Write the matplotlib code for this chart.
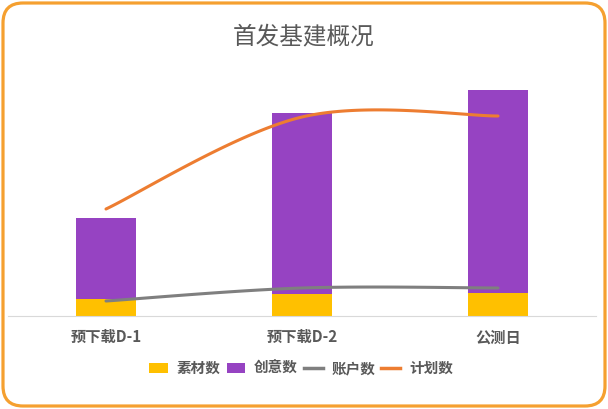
import matplotlib
matplotlib.use("Agg")
import matplotlib.pyplot as plt
import numpy as np
from matplotlib.patches import FancyBboxPatch, Patch
from matplotlib.lines import Line2D
from matplotlib.transforms import IdentityTransform

plt.rcParams['font.family'] = ['Noto Sans CJK SC', 'DejaVu Sans']

TITLE = "首发基建概况"
CATEGORIES = ["预下载D-1", "预下载D-2", "公测日"]
SUCAI = [17, 22, 23]          # 素材数
CHUANGYI = [81, 181, 203]     # 创意数
ZHANGHU = [15, 28, 28]        # 账户数
JIHUA = [107, 199, 200]       # 计划数
SERIES_NAMES = ["素材数", "创意数", "账户数", "计划数"]

YELLOW = "#FFC000"
PURPLE = "#9643C2"
GRAY = "#7F7F7F"
ORANGE = "#ED7D31"
TEXT = "#595959"
BORDER = "#F5A030"


def smooth(xs, ys, n=60):
    # excel-like smoothed line: cubic bezier with catmull-rom style handles
    pts = np.column_stack([xs, ys]).astype(float)
    k = len(pts)
    tang = np.zeros_like(pts)
    for i in range(k):
        a = pts[max(i - 1, 0)]
        b = pts[min(i + 1, k - 1)]
        tang[i] = (b - a) / 6.0
    out = []
    t = np.linspace(0, 1, n)[:, None]
    for i in range(k - 1):
        p0, p3 = pts[i], pts[i + 1]
        p1 = p0 + tang[i]
        p2 = p3 - tang[i + 1]
        seg = ((1 - t) ** 3) * p0 + 3 * ((1 - t) ** 2) * t * p1 \
            + 3 * (1 - t) * t ** 2 * p2 + t ** 3 * p3
        out.append(seg if i == 0 else seg[1:])
    out = np.vstack(out)
    return out[:, 0], out[:, 1]


fig = plt.figure(figsize=(6.08, 4.09), dpi=100)
fig.patch.set_facecolor("white")

border = FancyBboxPatch(
    (3, 3), 602, 403, boxstyle="round,pad=0,rounding_size=20",
    transform=IdentityTransform(), facecolor="white", edgecolor=BORDER,
    linewidth=2.3, zorder=0
)
fig.add_artist(border)

ax = fig.add_axes([8 / 608, 93 / 409, 588 / 608, 260 / 409])
ax.set_facecolor("none")

x = np.arange(len(CATEGORIES))
w = 0.31
ax.bar(x, SUCAI, w, color=YELLOW, zorder=2)
ax.bar(x, CHUANGYI, w, bottom=SUCAI, color=PURPLE, zorder=2)

sx, sy = smooth(x, ZHANGHU)
ax.plot(sx, sy, color=GRAY, linewidth=2.2, solid_capstyle="round", zorder=3)
sx, sy = smooth(x, JIHUA)
ax.plot(sx, sy, color=ORANGE, linewidth=2.2, solid_capstyle="round", zorder=3)

ax.set_xlim(-0.5, 2.5)
ax.set_ylim(0, 260)
for s in ["top", "right", "left"]:
    ax.spines[s].set_visible(False)
ax.spines["bottom"].set_color("#D9D9D9")
ax.spines["bottom"].set_linewidth(0.8)
ax.set_yticks([])
ax.set_xticks(x)
ax.set_xticklabels(CATEGORIES, fontsize=11, fontweight="bold", color=TEXT)
ax.tick_params(axis="x", length=0, pad=9.5)

fig.text(0.5, 1 - 37 / 409, TITLE, ha="center", va="center",
         fontsize=17, color=TEXT)

handles = [
    Patch(facecolor=YELLOW),
    Patch(facecolor=PURPLE),
    Line2D([], [], color=GRAY, linewidth=2.5),
    Line2D([], [], color=ORANGE, linewidth=2.5),
]
fig.legend(handles, SERIES_NAMES, loc="center", bbox_to_anchor=(301 / 608, 1 - 368 / 409),
           ncol=4, frameon=False, handlelength=1.3, handletextpad=0.6,
           columnspacing=0.4, prop={"size": 10.5, "weight": "bold"},
           labelcolor=TEXT)

fig.savefig("out.png", dpi=100)
